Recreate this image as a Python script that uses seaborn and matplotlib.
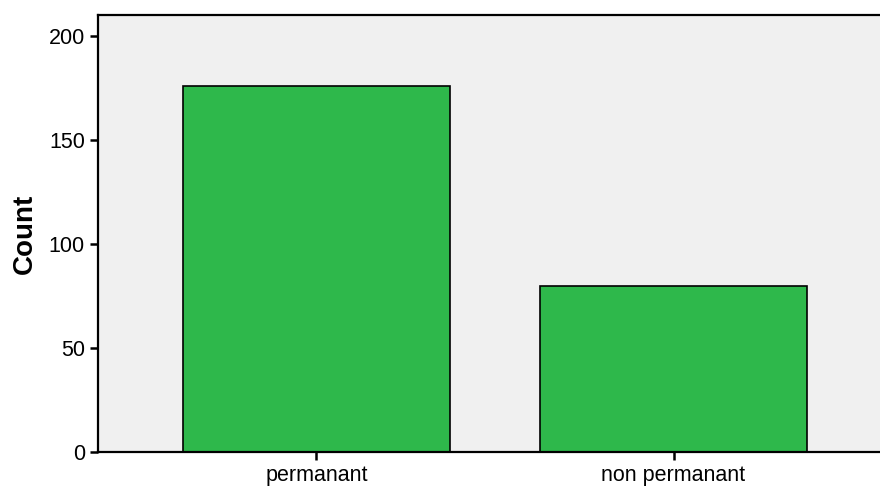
import matplotlib
matplotlib.use("Agg")
import matplotlib.pyplot as plt
import seaborn as sns
import pandas as pd

# Data
categories = ["permanant", "non permanant"]
counts = [176, 80]

df = pd.DataFrame({"category": categories, "count": counts})

sns.set_style("ticks")
plt.rcParams["font.family"] = ["Liberation Sans", "DejaVu Sans"]
plt.rcParams["text.color"] = "black"
plt.rcParams["axes.labelcolor"] = "black"
plt.rcParams["xtick.color"] = "black"
plt.rcParams["ytick.color"] = "black"

fig = plt.figure(figsize=(8.8, 4.94), dpi=100)
ax = fig.add_axes([98 / 880, 1 - 452 / 494, (892 - 98) / 880, (452 - 15) / 494])
ax.set_facecolor("#f0f0f0")

sns.barplot(
    data=df,
    x="category",
    y="count",
    color="#2eb84b",
    saturation=1,
    width=0.75,
    edgecolor="black",
    linewidth=1.2,
    ax=ax,
)

ax.set_xlim(-0.612, 1.612)
ax.set_ylim(0, 210)
ax.set_yticks([0, 50, 100, 150, 200])
ax.set_xlabel("")
ax.set_ylabel("Count", fontsize=20, fontweight="bold", labelpad=8)
ax.tick_params(axis="both", labelsize=15.5, length=6, width=1.8,
               color="black", labelcolor="black")

for side in ["left", "bottom", "top"]:
    ax.spines[side].set_linewidth(1.6)
    ax.spines[side].set_color("black")
ax.spines["right"].set_visible(False)

fig.savefig("out.png", dpi=100)
